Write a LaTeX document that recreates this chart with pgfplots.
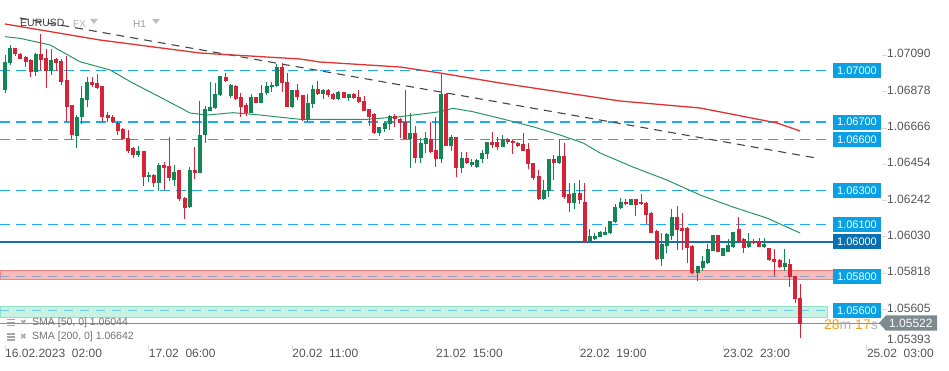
\documentclass[border=0pt]{standalone}
\usepackage{fontspec}
\setmainfont{Liberation Sans}
\newfontfamily\dejavu{DejaVu Sans}
\usepackage{pgfplots}
\usepackage{pgfplotstable}
\pgfplotsset{compat=1.18}
\definecolor{cgreen}{RGB}{18,135,85}
\definecolor{cred}{RGB}{214,35,55}
\definecolor{lvl}{RGB}{30,170,240}
\definecolor{lvlbox}{RGB}{10,160,230}
\definecolor{lvldark}{RGB}{20,110,180}
\definecolor{boxdark}{RGB}{10,112,180}
\definecolor{smared}{RGB}{225,50,50}
\definecolor{smagreen}{RGB}{40,150,100}
\definecolor{trend}{RGB}{70,70,70}
\definecolor{tick}{RGB}{85,85,85}
\definecolor{bandred}{RGB}{249,186,186}
\definecolor{bandredb}{RGB}{240,130,130}
\definecolor{bandgrn}{RGB}{200,242,227}
\definecolor{bandgrnb}{RGB}{144,226,198}
\definecolor{curgray}{RGB}{125,138,142}
\definecolor{orng}{RGB}{245,160,30}

\pgfplotstableread{
i o h l c
0 1.06887 1.07092 1.06872 1.07053
1 1.07047 1.07150 1.07033 1.07131
6 1.06994 1.07101 1.06969 1.07098
9 1.07000 1.07125 1.06975 1.07063
14 1.06619 1.06741 1.06547 1.06732
15 1.06732 1.06911 1.06687 1.06839
16 1.06829 1.06961 1.06786 1.06936
26 1.06508 1.06560 1.06494 1.06531
28 1.06378 1.06411 1.06352 1.06391
30 1.06342 1.06463 1.06300 1.06450
33 1.06362 1.06450 1.06329 1.06411
36 1.06202 1.06440 1.06197 1.06420
38 1.06405 1.06825 1.06405 1.06625
39 1.06625 1.06794 1.06580 1.06775
40 1.06767 1.06936 1.06767 1.06786
41 1.06780 1.06926 1.06775 1.06864
42 1.06858 1.06969 1.06852 1.06969
44 1.06852 1.06922 1.06839 1.06917
48 1.06755 1.06864 1.06751 1.06845
50 1.06813 1.06917 1.06810 1.06872
51 1.06868 1.06936 1.06858 1.06911
52 1.06903 1.06936 1.06878 1.06917
53 1.06911 1.07039 1.06907 1.07024
56 1.06790 1.06887 1.06784 1.06887
59 1.06712 1.06864 1.06708 1.06810
60 1.06804 1.06917 1.06784 1.06891
62 1.06862 1.06891 1.06835 1.06887
65 1.06833 1.06882 1.06829 1.06878
67 1.06843 1.06864 1.06825 1.06862
73 1.06634 1.06673 1.06619 1.06669
74 1.06662 1.06703 1.06644 1.06693
75 1.06687 1.06741 1.06654 1.06738
79 1.06601 1.06751 1.06430 1.06634
81 1.06488 1.06605 1.06463 1.06576
82 1.06570 1.06644 1.06522 1.06605
85 1.06483 1.06985 1.06459 1.06864
87 1.06560 1.06625 1.06531 1.06611
89 1.06430 1.06523 1.06401 1.06488
91 1.06450 1.06483 1.06436 1.06465
92 1.06440 1.06483 1.06434 1.06479
93 1.06487 1.06537 1.06463 1.06518
94 1.06512 1.06586 1.06483 1.06582
97 1.06557 1.06625 1.06553 1.06601
105 1.06249 1.06362 1.06245 1.06304
106 1.06300 1.06483 1.06265 1.06483
108 1.06459 1.06599 1.06455 1.06502
111 1.06226 1.06342 1.06191 1.06284
114 1.06008 1.06074 1.06002 1.06035
115 1.06019 1.06054 1.06012 1.06035
116 1.06031 1.06066 1.06031 1.06056
117 1.06043 1.06089 1.06039 1.06060
118 1.06051 1.06123 1.06047 1.06123
119 1.06115 1.06220 1.06109 1.06202
120 1.06197 1.06255 1.06191 1.06235
122 1.06216 1.06251 1.06214 1.06251
128 1.05899 1.06051 1.05860 1.05988
129 1.05977 1.06051 1.05934 1.06047
130 1.06035 1.06191 1.06012 1.06148
135 1.05817 1.05860 1.05772 1.05860
136 1.05848 1.05918 1.05833 1.05891
137 1.05875 1.05988 1.05872 1.05961
138 1.05949 1.06041 1.05947 1.06041
140 1.05920 1.05967 1.05918 1.05967
141 1.05944 1.06016 1.05940 1.05982
142 1.05969 1.06058 1.05967 1.06058
145 1.05969 1.06051 1.05965 1.06008
148 1.05973 1.06021 1.05967 1.05988
152 1.05856 1.05961 1.05833 1.05875
}\greentab

\pgfplotstableread{
i o h l c
2 1.07131 1.07135 1.07086 1.07096
3 1.07096 1.07105 1.07066 1.07070
4 1.07078 1.07086 1.07024 1.07053
5 1.07063 1.07066 1.06965 1.06994
7 1.07096 1.07214 1.07004 1.07063
8 1.07072 1.07125 1.06897 1.07000
10 1.07066 1.07072 1.07000 1.07047
11 1.07057 1.07066 1.06917 1.06936
12 1.06946 1.07086 1.06703 1.06790
13 1.06800 1.06800 1.06599 1.06625
17 1.06936 1.06961 1.06907 1.06917
18 1.06930 1.06981 1.06893 1.06897
19 1.06911 1.06911 1.06703 1.06732
20 1.06741 1.06761 1.06703 1.06722
21 1.06728 1.06741 1.06693 1.06703
22 1.06693 1.06703 1.06625 1.06650
23 1.06658 1.06664 1.06595 1.06599
24 1.06605 1.06654 1.06522 1.06533
25 1.06547 1.06557 1.06492 1.06508
27 1.06531 1.06531 1.06329 1.06381
29 1.06391 1.06397 1.06323 1.06346
31 1.06450 1.06469 1.06304 1.06434
32 1.06444 1.06611 1.06356 1.06372
34 1.06420 1.06420 1.06239 1.06251
35 1.06259 1.06265 1.06132 1.06197
37 1.06420 1.06553 1.06368 1.06405
43 1.06965 1.06985 1.06936 1.06942
45 1.06913 1.06917 1.06829 1.06837
46 1.06845 1.06872 1.06732 1.06790
47 1.06800 1.06810 1.06738 1.06751
49 1.06845 1.06848 1.06810 1.06813
54 1.07020 1.07047 1.06878 1.06926
55 1.06936 1.06989 1.06786 1.06790
57 1.06887 1.06922 1.06829 1.06848
58 1.06858 1.06858 1.06708 1.06712
61 1.06891 1.06940 1.06858 1.06862
63 1.06887 1.06891 1.06848 1.06858
64 1.06864 1.06868 1.06829 1.06833
66 1.06874 1.06878 1.06839 1.06843
68 1.06864 1.06868 1.06835 1.06843
69 1.06845 1.06887 1.06810 1.06819
70 1.06825 1.06852 1.06765 1.06767
71 1.06775 1.06775 1.06677 1.06732
72 1.06745 1.06751 1.06631 1.06634
76 1.06738 1.06745 1.06673 1.06716
77 1.06716 1.06726 1.06605 1.06693
78 1.06699 1.06887 1.06599 1.06601
80 1.06634 1.06677 1.06459 1.06488
83 1.06599 1.06699 1.06518 1.06527
84 1.06537 1.06728 1.06440 1.06483
86 1.06864 1.06868 1.06560 1.06562
88 1.06611 1.06615 1.06378 1.06430
90 1.06488 1.06523 1.06455 1.06459
95 1.06582 1.06640 1.06547 1.06566
96 1.06582 1.06611 1.06537 1.06557
98 1.06601 1.06605 1.06572 1.06582
99 1.06590 1.06595 1.06514 1.06576
100 1.06576 1.06586 1.06557 1.06562
101 1.06572 1.06634 1.06531 1.06533
102 1.06541 1.06576 1.06426 1.06455
103 1.06459 1.06463 1.06362 1.06372
104 1.06385 1.06420 1.06247 1.06249
107 1.06483 1.06508 1.06362 1.06459
109 1.06502 1.06580 1.06251 1.06265
110 1.06278 1.06342 1.06177 1.06226
112 1.06284 1.06362 1.06222 1.06245
113 1.06232 1.06346 1.05996 1.06006
121 1.06235 1.06251 1.06214 1.06220
123 1.06251 1.06251 1.06154 1.06216
124 1.06235 1.06280 1.06216 1.06220
125 1.06226 1.06235 1.06105 1.06158
126 1.06172 1.06175 1.06051 1.06054
127 1.06064 1.06070 1.05895 1.05901
131 1.06148 1.06210 1.05953 1.06070
132 1.06080 1.06167 1.05953 1.06064
133 1.06084 1.06089 1.05875 1.05963
134 1.05977 1.05982 1.05813 1.05817
139 1.06041 1.06041 1.05940 1.05944
143 1.06074 1.06148 1.05998 1.06008
144 1.06016 1.06021 1.05938 1.05967
146 1.06008 1.06016 1.05986 1.05996
147 1.06008 1.06021 1.05969 1.05973
149 1.05963 1.05963 1.05891 1.05895
150 1.05903 1.05961 1.05802 1.05885
151 1.05895 1.05899 1.05846 1.05856
153 1.05870 1.05899 1.05739 1.05798
154 1.05802 1.05802 1.05646 1.05665
155 1.05671 1.05753 1.05438 1.05522
}\redtab

\begin{document}
\begin{tikzpicture}[x=1pt,y=1pt]
\useasboundingbox (0pt,0pt) rectangle (949pt,370pt);
\begin{axis}[
  at={(0pt,25pt)}, anchor=south west,
  width=882pt, height=345pt, scale only axis,
  xmin=-0.975, xmax=170.96,
  ymin=1.053987, ymax=1.074127,
  clip=false,
  axis line style={draw=none},
  tick align=outside,
  major tick length=5pt,
  tick style={draw=black!15, line width=0.8pt},
  xtick={0,28,56,84,112,140,168},
  xticklabels={16.02.2023~~02:00, 17.02~~06:00, 20.02~~11:00, 21.02~~15:00, 22.02~~19:00, 23.02~~23:00, 25.02~~03:00},
  xticklabel style={anchor=base west, inner sep=0pt, text=tick, font=\fontsize{12}{14}\selectfont, yshift=-7pt},
  yticklabel pos=right,
  ytick={1.07090,1.06878,1.06666,1.06454,1.06242,1.06030,1.05818,1.05605},
  yticklabels={1.07090,1.06878,1.06666,1.06454,1.06242,1.06030,1.05818,1.05605},
  extra y ticks={1.05420},
  extra y tick labels={1.05393},
  extra y tick style={tick style={draw=none}},
  yticklabel style={anchor=west, inner sep=0pt, text=tick, font=\fontsize{12}{14}\selectfont, yshift=1.5pt},
]
% bands
\addplot[fill=bandred, draw=bandredb, line width=0.8pt, forget plot] coordinates {(-0.975,1.05781) (161.4,1.05781) (161.4,1.05835) (-0.975,1.05835)} -- cycle;
\addplot[fill=bandgrn, draw=bandgrnb, line width=0.8pt, forget plot] coordinates {(-0.975,1.05560) (160.4,1.05560) (160.4,1.05626) (-0.975,1.05626)} -- cycle;
\addplot[draw={rgb,255:red,150;green,160;blue,190}, line width=1pt, dash pattern=on 9pt off 7pt, forget plot] coordinates {(-0.975,1.05800) (161.4,1.05800)};
\addplot[draw={rgb,255:red,110;green,200;blue,225}, line width=1pt, dash pattern=on 9pt off 7pt, forget plot] coordinates {(-0.975,1.05600) (160.4,1.05600)};
% levels
\addplot[lvl, line width=1.2pt, dash pattern=on 10pt off 6pt, forget plot] coordinates {(-0.975,1.07000) (160.8,1.07000)};
\addplot[lvl, line width=1.2pt, dash pattern=on 10pt off 6pt, forget plot] coordinates {(-0.975,1.06700) (160.8,1.06700)};
\addplot[lvl, line width=1.2pt, dash pattern=on 10pt off 6pt, forget plot] coordinates {(-0.975,1.06600) (160.8,1.06600)};
\addplot[lvl, line width=1.2pt, dash pattern=on 10pt off 6pt, forget plot] coordinates {(-0.975,1.06300) (160.8,1.06300)};
\addplot[lvl, line width=1.2pt, dash pattern=on 10pt off 6pt, forget plot] coordinates {(-0.975,1.06100) (160.8,1.06100)};
\addplot[lvldark, line width=1.1pt, forget plot] coordinates {(-0.975,1.06000) (161.4,1.06000)};
% current price line
\addplot[black!45, line width=0.9pt, forget plot] coordinates {(-0.975,1.05522) (170.6,1.05522)};
% trend line
\addplot[trend, line width=1.1pt, dash pattern=on 8pt off 6pt, forget plot] coordinates {(2.9,1.073076) (158.1,1.064904)};
% SMA 200
\addplot[smared, line width=1.3pt, forget plot] coordinates {
(0,1.072726) (18.5,1.071792) (38.0,1.071033) (57.5,1.070683) (61.4,1.070508) (77.0,1.070216)
(84.8,1.069866) (96.5,1.069282) (119.9,1.068231) (135.5,1.067823) (150.5,1.066947) (155,1.066480)};
% SMA 50
\addplot[smagreen, line width=1pt, forget plot] coordinates {
(0,1.071985) (2.9,1.071891) (8.8,1.071500) (14.6,1.070525) (20.5,1.070041) (24.9,1.069282)
(30.2,1.068463) (36.1,1.067530) (39.4,1.067413) (44.4,1.067548) (49.7,1.067413) (57.5,1.067163)
(70.6,1.067163) (77.0,1.067315) (84.8,1.067607) (87.3,1.067805) (91.2,1.067607) (96.5,1.067221)
(102.9,1.066731) (108.2,1.066246) (112.7,1.065779) (116.0,1.065196) (122.4,1.064378) (129.0,1.063620)
(135.5,1.062744) (141.9,1.062043) (148.5,1.061401) (155.0,1.060525)};
% candles: wicks
\addplot[draw=none, mark=none, forget plot,
  error bars/.cd, y dir=plus, y explicit, error mark=none,
  error bar style={draw=cgreen, line width=1pt}]
  table[x=i, y=l, y error plus expr={\thisrow{h}-\thisrow{l}}] {\greentab};
\addplot[draw=none, mark=none, forget plot,
  error bars/.cd, y dir=plus, y explicit, error mark=none,
  error bar style={draw=cred, line width=1pt}]
  table[x=i, y=l, y error plus expr={\thisrow{h}-\thisrow{l}}] {\redtab};
% candles: bodies
\addplot[draw=none, mark=none, forget plot,
  error bars/.cd, y dir=plus, y explicit, error mark=none,
  error bar style={draw=cgreen, line width=4pt}]
  table[x=i, y=o, y error plus expr={\thisrow{c}-\thisrow{o}}] {\greentab};
\addplot[draw=none, mark=none, forget plot,
  error bars/.cd, y dir=plus, y explicit, error mark=none,
  error bar style={draw=cred, line width=4pt}]
  table[x=i, y=c, y error plus expr={\thisrow{o}-\thisrow{c}}] {\redtab};
% level boxes
\foreach \v/\t in {1.07000/1.07000, 1.06700/1.06700, 1.06600/1.06600, 1.06300/1.06300, 1.06100/1.06100, 1.05800/1.05800, 1.05600/1.05600} {
  \edef\tmp{\noexpand\node[fill=lvlbox, text=white, minimum width=48pt, minimum height=15pt, inner sep=0pt, font=\noexpand\fontsize{11}{13}\noexpand\selectfont] at (axis cs:166.08,\v) {\t};}
  \tmp
}
\node[fill=boxdark, text=white, minimum width=48pt, minimum height=15pt, inner sep=0pt, font=\fontsize{11}{13}\selectfont] at (axis cs:166.08,1.06000) {1.06000};
\end{axis}
% current price marker
\fill[curgray] (879pt,47pt) -- (886pt,54.7pt) -- (937pt,54.7pt) -- (937pt,39.3pt) -- (886pt,39.3pt) -- cycle;
\node[text=white, anchor=west, inner sep=0pt, font=\fontsize{12}{14}\selectfont] at (889pt,47pt) {1.05522};
\node[anchor=east, inner sep=0pt, font=\fontsize{14}{16}\selectfont] at (878pt,45pt) {\textcolor{orng}{28}\textcolor{black!30}{m} \textcolor{orng}{17}\textcolor{black!30}{s}};
% header
\node[anchor=west, inner sep=0pt, text={rgb,255:red,60;green,64;blue,67}, font=\fontsize{10.5}{12}\selectfont] at (20pt,347pt) {EURUSD};
\node[anchor=west, inner sep=0pt, text=black!30, font=\fontsize{10}{12}\selectfont] at (73pt,346pt) {FX};
\fill[black!25] (90pt,351pt) -- (98pt,351pt) -- (94pt,346pt) -- cycle;
\node[anchor=west, inner sep=0pt, text=black!40, font=\fontsize{10}{12}\selectfont] at (133pt,346pt) {H1};
\fill[black!25] (152pt,351pt) -- (160pt,351pt) -- (156pt,346pt) -- cycle;
% legend
\foreach \yy/\txt in {47.5/{SMA [50,~0] 1.06044}, 33/{SMA [200,~0] 1.06642}} {
  \draw[black!35, line width=1.2pt] (7pt,\yy pt+3pt) -- (15pt,\yy pt+3pt) (7pt,\yy pt) -- (15pt,\yy pt) (7pt,\yy pt-3pt) -- (15pt,\yy pt-3pt);
  \node[inner sep=0pt, text=black!35, font=\dejavu\fontsize{8}{9}\selectfont] at (23.5pt,\yy pt) {✖};
  \node[anchor=west, inner sep=0pt, text=black!55, font=\fontsize{10.5}{12}\selectfont] at (32pt,\yy pt) {\txt};
}
\end{tikzpicture}
\end{document}
